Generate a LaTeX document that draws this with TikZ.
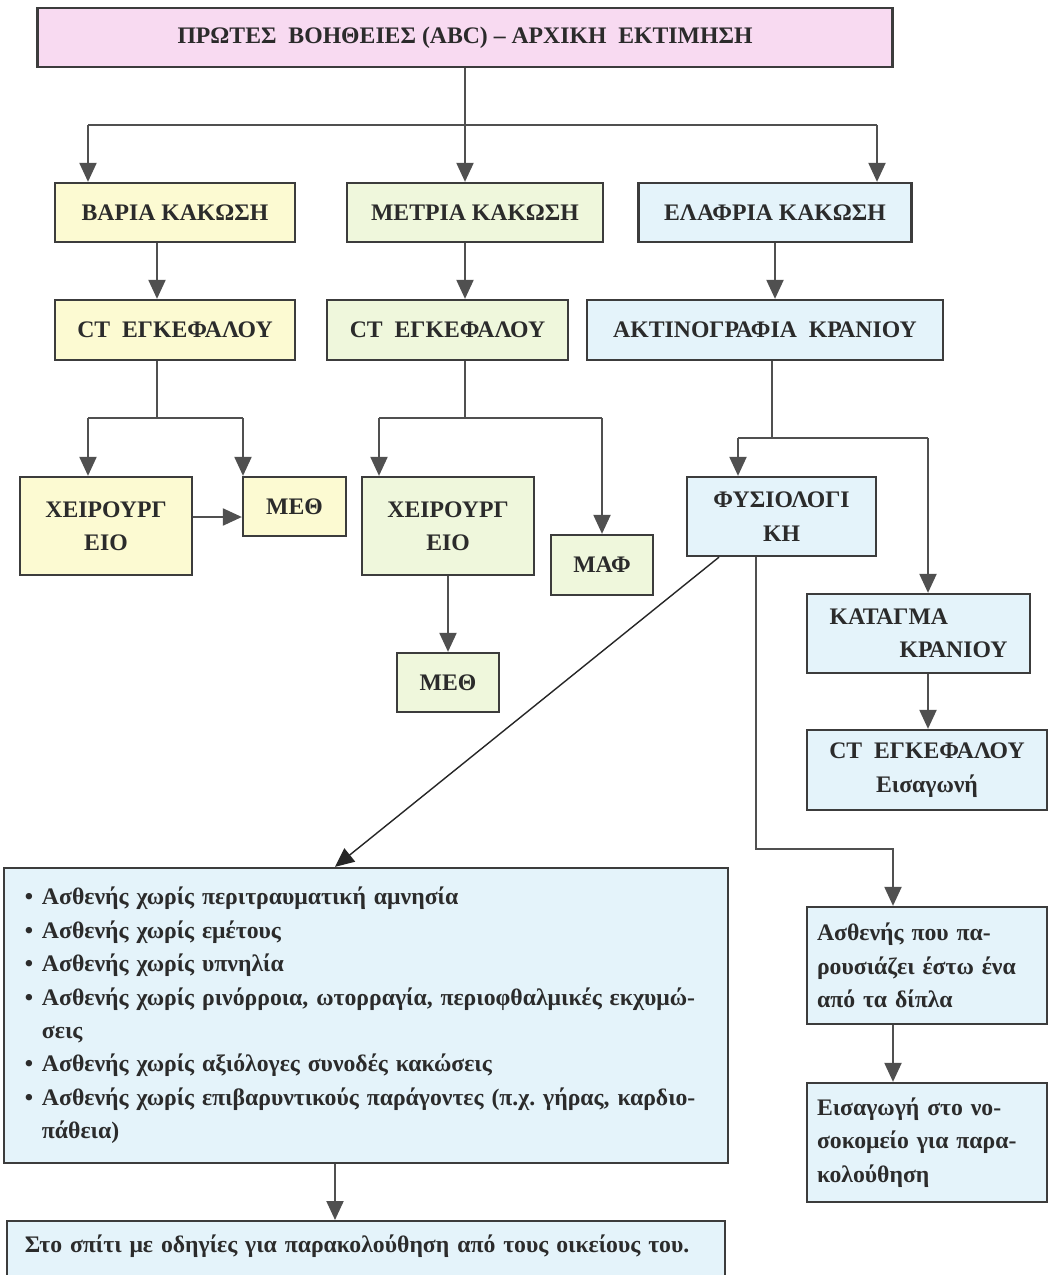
\documentclass[tikz,border=0pt]{standalone}
\usepackage{fontspec}
\setmainfont{Liberation Serif}
\usetikzlibrary{arrows.meta,calc}
\definecolor{pinkfill}{HTML}{F8DAF1}
\definecolor{yelfill}{HTML}{FCFAD2}
\definecolor{grnfill}{HTML}{EFF7DC}
\definecolor{bluefill}{HTML}{E4F3FA}
\definecolor{edge}{HTML}{3C3C3C}
\definecolor{wire}{HTML}{505050}
\definecolor{ink}{HTML}{2B2B2B}
\tikzset{>={Triangle[width=3.4mm,length=3.8mm]}}
\tikzstyle{box}=[rectangle,draw=edge,line width=1.3pt,align=center,inner sep=1mm]
\tikzstyle{yel}=[box,fill=yelfill]
\tikzstyle{grn}=[box,fill=grnfill]
\tikzstyle{blu}=[box,fill=bluefill]
\tikzstyle{line}=[draw=wire,line width=1.2pt]
\tikzstyle{arr}=[line,->]
\newcommand{\itm}{\makebox[3.4mm][l]{\textbullet}}
\newcommand{\cont}{\hspace*{3.4mm}}
\frenchspacing

\begin{document}
\begin{tikzpicture}[x=0.2mm,y=-0.2mm,font=\bfseries\fontsize{13.5}{19}\selectfont,text=ink]
	\useasboundingbox (0,0) rectangle (1054,1275);
	\clip (0,0) rectangle (1054,1275);
	\fill[white] (0,0) rectangle (1054,1275);

	% top row
	\node[box,fill=pinkfill,minimum width=171mm,minimum height=11.8mm] (title) at (465,37.5) {ΠΡΩΤΕΣ\ \ ΒΟΗΘΕΙΕΣ (ABC) – ΑΡΧΙΚΗ\ \ ΕΚΤΙΜΗΣΗ};

	\node[yel,minimum width=48mm,minimum height=11.8mm] (bar) at (175,212.5) {ΒΑΡΙΑ ΚΑΚΩΣΗ};
	\node[grn,minimum width=51.2mm,minimum height=11.8mm] (metr) at (475,212.5) {ΜΕΤΡΙΑ ΚΑΚΩΣΗ};
	\node[blu,minimum width=54.6mm,minimum height=11.8mm] (elaf) at (775,212.5) {ΕΛΑΦΡΙΑ ΚΑΚΩΣΗ};

	\node[yel,minimum width=48mm,minimum height=12mm] (ct1) at (175,330) {CT\ \ ΕΓΚΕΦΑΛΟΥ};
	\node[grn,minimum width=48.2mm,minimum height=12mm] (ct2) at (447.5,330) {CT\ \ ΕΓΚΕΦΑΛΟΥ};
	\node[blu,minimum width=71.2mm,minimum height=12mm] (akt) at (765,330) {ΑΚΤΙΝΟΓΡΑΦΙΑ\ \ ΚΡΑΝΙΟΥ};

	% third level
	\node[yel,minimum width=34.4mm,minimum height=19.6mm] (xeir1) at (106,526) {ΧΕΙΡΟΥΡΓ\\ΕΙΟ};
	\node[yel,minimum width=20.6mm,minimum height=11.8mm] (meth1) at (294.5,506.5) {ΜΕΘ};
	\node[grn,minimum width=34.4mm,minimum height=19.6mm] (xeir2) at (448,526) {ΧΕΙΡΟΥΡΓ\\ΕΙΟ};
	\node[grn,minimum width=20.4mm,minimum height=12mm] (maf) at (602,565) {ΜΑΦ};
	\node[grn,minimum width=20.4mm,minimum height=11.8mm] (meth2) at (448,682.5) {ΜΕΘ};
	\node[blu,minimum width=37.8mm,minimum height=15.8mm] (fys) at (781.5,516.5) {ΦΥΣΙΟΛΟΓΙ\\ΚΗ};
	\node[blu,minimum width=44.6mm,minimum height=15.8mm,align=left] (katag) at (918.5,633.5) {ΚΑΤΑΓΜΑ\\\hspace*{14mm}ΚΡΑΝΙΟΥ};
	\node[blu,minimum width=48mm,minimum height=16mm] (ctin) at (927,770) {CT\ \ ΕΓΚΕΦΑΛΟΥ\\Εισαγωνή};

	% bottom
	\node[blu,text width=136.4mm,inner xsep=4.2mm,minimum height=59mm,align=left] (list) at (366,1015.5) {%
		\itm Ασθενής χωρίς περιτραυματική αμνησία\\
		\itm Ασθενής χωρίς εμέτους\\
		\itm Ασθενής χωρίς υπνηλία\\
		\itm Ασθενής χωρίς ρινόρροια, ωτορραγία, περιοφθαλμικές εκχυμώ-\\
		\cont σεις\\
		\itm Ασθενής χωρίς αξιόλογες συνοδές κακώσεις\\
		\itm Ασθενής χωρίς επιβαρυντικούς παράγοντες (π.χ. γήρας, καρδιο-\\
		\cont πάθεια)};
	\node[blu,text width=136.4mm,inner xsep=3.6mm,inner ysep=2.8mm,text depth=8mm,align=left,anchor=north] (home) at (366,1220) {Στο σπίτι με οδηγίες για παρακολούθηση από τους οικείους του.};
	\node[blu,text width=44mm,inner xsep=2mm,minimum height=23.4mm,align=left] (pres) at (927,965.5) {Ασθενής που πα-\\ρουσιάζει έστω ένα\\από τα δίπλα};
	\node[blu,text width=44mm,inner xsep=2mm,minimum height=23.8mm,align=left] (adm) at (927,1142.5) {Εισαγωγή στο νο-\\σοκομείο για παρα-\\κολούθηση};

	% junctions
	\coordinate (s1) at (465,125);
	\coordinate (sl) at (88,125);
	\coordinate (sr) at (877,125);
	\coordinate (c1) at (157,418);
	\coordinate (c1l) at (88,418);
	\coordinate (c1r) at (243,418);
	\coordinate (c2) at (465,418);
	\coordinate (c2l) at (379,418);
	\coordinate (c2r) at (602,418);
	\coordinate (a1) at (772,438);
	\coordinate (al) at (738,438);
	\coordinate (ar) at (928,438);

	\draw[line] (sl) -- (sr);
	\draw[arr] (title.south -| s1) -- (s1 |- metr.north);
	\draw[arr] (sl) -- (sl |- bar.north);
	\draw[arr] (sr) -- (sr |- elaf.north);

	\draw[arr] (c1 |- bar.south) -- (c1 |- ct1.north);
	\draw[arr] (c2 |- metr.south) -- (c2 |- ct2.north);
	\draw[arr] (elaf.south) -- (elaf.south |- akt.north);

	\draw[line] (c1 |- ct1.south) -- (c1);
	\draw[line] (c1l) -- (c1r);
	\draw[arr] (c1l) -- (c1l |- xeir1.north);
	\draw[arr] (c1r) -- (c1r |- meth1.north);
	\draw[arr] ([yshift=1.8mm]xeir1.east) -- ([yshift=1.8mm]xeir1.east -| meth1.west);

	\draw[line] (c2 |- ct2.south) -- (c2);
	\draw[line] (c2l) -- (c2r);
	\draw[arr] (c2l) -- (c2l |- xeir2.north);
	\draw[arr] (c2r) -- (c2r |- maf.north);
	\draw[arr] (xeir2) -- (meth2);

	\draw[line] (a1 |- akt.south) -- (a1);
	\draw[line] (al) -- (ar);
	\draw[arr] (al) -- (al |- fys.north);
	\draw[arr] (ar) -- (ar |- katag.north);
	\draw[arr] (ar |- katag.south) -- (ar |- ctin.north);

	\draw[arr,line width=0.8pt,draw=black!85] ([xshift=-12.5mm]fys.south) -- ([xshift=-6.2mm]list.north);
	\draw[arr] ([xshift=-5.1mm]fys.south) -- ++(0,292) -| ([xshift=-6.8mm]pres.north);
	\draw[arr] ([xshift=-6.8mm]pres.south) -- ([xshift=-6.8mm]adm.north);
	\draw[arr] ([xshift=-6.2mm]list.south) -- ([xshift=-6.2mm]home.north);
\end{tikzpicture}
\end{document}
